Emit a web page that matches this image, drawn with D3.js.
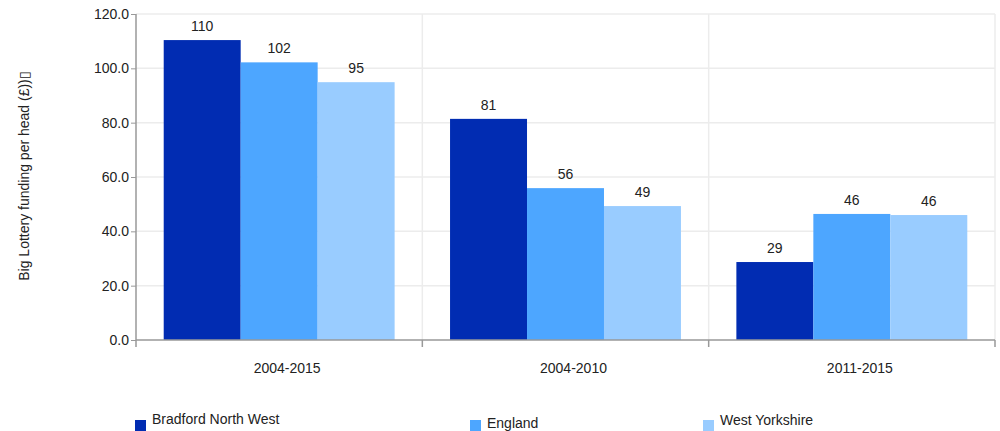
<!DOCTYPE html>
<html><head><meta charset="utf-8">
<script src="https://d3js.org/d3.v7.min.js"></script>
<style>body{margin:0;background:#fff}svg{display:block;font-family:"Liberation Sans",Arial,sans-serif}</style>
</head><body><svg id="c" width="1000" height="431"></svg>
<script>
const categories = ["2004-2015", "2004-2010", "2011-2015"];
const seriesNames = ["Bradford North West", "England", "West Yorkshire"];
const bradford = [110.4, 81.4, 28.7];
const england = [102.2, 55.9, 46.4];
const westYorkshire = [94.9, 49.3, 46.0];
const yTicks = [0, 20, 40, 60, 80, 100, 120];
const colors = ["#012cb2", "#4da6ff", "#99ccff"];
const yTitle = "Big Lottery funding per head (£))\u25AF";

const series = [bradford, england, westYorkshire];
const svg = d3.select("#c");
const FS = 14;
const L = 136, R = 995, T = 14, B = 340;
const x = d3.scaleBand().domain(categories).range([L, R]).paddingInner(0).paddingOuter(0);
const xi = d3.scaleBand().domain(d3.range(series.length)).range([0, x.bandwidth()]).paddingOuter(0.36).paddingInner(0);
const y = d3.scaleLinear().domain([0, 120]).range([B, T]);

// grid
svg.append("g").selectAll("line").data(yTicks.slice(1)).join("line")
  .attr("x1", L).attr("x2", R).attr("y1", d => y(d)).attr("y2", d => y(d))
  .attr("stroke", "#ececec").attr("stroke-width", 1.5);
svg.append("g").selectAll("line").data(categories.map(c => x(c) + x.bandwidth())).join("line")
  .attr("x1", d => d).attr("x2", d => d).attr("y1", T).attr("y2", B)
  .attr("stroke", "#ececec").attr("stroke-width", 1.5);

// bars
const g = svg.append("g");
series.forEach((s, si) => {
  g.selectAll(null).data(s).join("rect")
    .attr("x", (d, i) => x(categories[i]) + xi(si))
    .attr("width", xi.bandwidth())
    .attr("y", d => y(d)).attr("height", d => B - y(d))
    .attr("fill", colors[si]);
  g.selectAll(null).data(s).join("text")
    .attr("x", (d, i) => x(categories[i]) + xi(si) + xi.bandwidth() / 2)
    .attr("y", d => y(d) - 9)
    .attr("text-anchor", "middle").attr("font-size", FS).attr("fill", "#222")
    .text(d => d3.format(".0f")(d));
});

// y axis
const ya = svg.append("g").attr("transform", `translate(${L},0)`)
  .call(d3.axisLeft(y).tickValues(yTicks).tickFormat(d3.format(".1f")).tickSize(5).tickPadding(2));
ya.select(".domain").attr("stroke", "#999").attr("stroke-width", 1.5).attr("d", `M0,${T}V${B}`);
ya.selectAll(".tick line").attr("stroke", "#999");
ya.selectAll(".tick text").attr("font-size", FS).attr("fill", "#222").attr("font-family", '"Liberation Sans",Arial,sans-serif');

// x axis
const xa = svg.append("g").attr("transform", `translate(0,${B})`);
xa.append("line").attr("x1", L).attr("x2", R).attr("stroke", "#999").attr("stroke-width", 1.5);
xa.selectAll("line.t").data([L].concat(categories.map(c => x(c) + x.bandwidth()))).join("line")
  .attr("class", "t").attr("x1", d => d).attr("x2", d => d).attr("y1", 0).attr("y2", 7)
  .attr("stroke", "#999").attr("stroke-width", 1.5);
xa.selectAll("text").data(categories).join("text")
  .attr("x", d => x(d) + x.bandwidth() / 2 + 8).attr("y", 33)
  .attr("text-anchor", "middle").attr("font-size", FS).attr("fill", "#222").text(d => d);

// y title
svg.append("text").attr("transform", "translate(29,176) rotate(-90)")
  .attr("text-anchor", "middle").attr("font-size", FS).attr("fill", "#222").text(yTitle);

// legend
const legX = [135, 470, 703];
const legY = [424, 428, 425];
const lg = svg.append("g");
seriesNames.forEach((n, i) => {
  lg.append("rect").attr("x", legX[i]).attr("y", 420).attr("width", 11).attr("height", 11).attr("fill", colors[i]);
  lg.append("text").attr("x", legX[i] + 17).attr("y", legY[i]).attr("font-size", FS).attr("fill", "#222").text(n);
});
</script></body></html>
